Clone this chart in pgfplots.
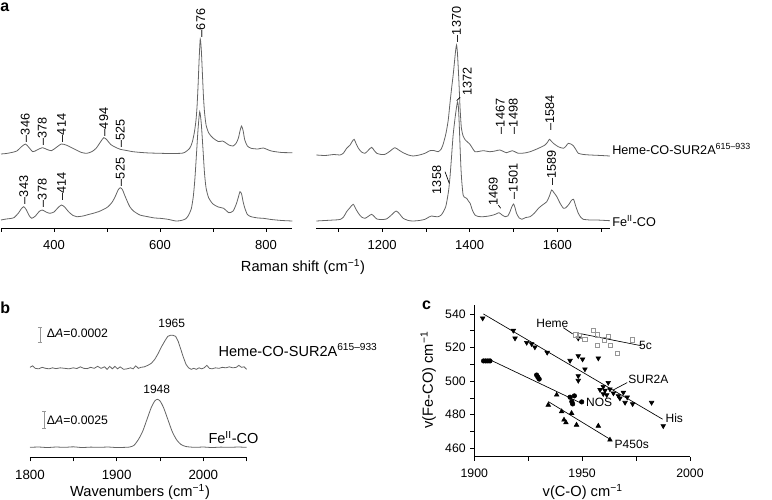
\documentclass[border=0pt]{standalone}
\usepackage{fontspec}
\setmainfont{Liberation Sans}
\usepackage{pgfplots}
\pgfplotsset{compat=1.18}

\definecolor{spec}{RGB}{100,100,100}
\definecolor{sq}{RGB}{150,150,150}

\pgfplotsset{
  panel/.style={scale only axis, anchor=south west, clip=false,
    axis line style={-, black, line width=0.5pt},
    tick align=outside, major tick length=3pt, minor tick length=3pt,
    tick style={black, line width=0.5pt},
    /pgf/number format/assume math mode=true,
    /pgf/number format/1000 sep={},
    tick label style={font=\fontsize{9.75}{11}\selectfont},
    xticklabel style={yshift=-3pt}},
  spectrum/.style={spec, line width=0.6pt, smooth, tension=0.4, mark=none},
}
\tikzset{pk/.style={rotate=90, anchor=west, inner sep=0.5pt, font=\fontsize{9.5}{11}\selectfont}}

\begin{document}
\fontsize{9.75}{11.5}\selectfont
\begin{tikzpicture}
\path[use as bounding box] (0,0) rectangle (579pt,375pt);

% ---------- panel a, low-frequency part
\begin{axis}[panel, at={(0.75pt,204pt)}, width=218.6pt, height=171pt,
  xmin=300, xmax=850, ymin=0, ymax=228,
  axis x line*=bottom, hide y axis,
  xtick={400,600,800}, minor xtick={300,500,700}]
\addplot[spectrum] coordinates {
(300,74) (310,74.5) (320,75.5) (330,77) (338,81) (346,84) (352,81) (360,76.3)
(368,78) (378,80.3) (387,78.5) (395,77.3) (403,80) (414,84) (425,82.5) (440,78.5)
(452,75.5) (462,74.7) (472,76.5) (480,80) (487,85.5) (494,90.3) (500,88) (507,83.5)
(515,81) (525,78.7) (537,77.5) (549,76.3) (565,75.5) (580,75) (600,74.7) (620,74.5)
(644,75) (656,79.7) (661,86) (665,96) (668,108) (670,122) (672,144) (674,170)
(676,189) (678,178) (680,155) (682,132) (684,116) (687,103) (692,95) (700,90)
(710,86.5) (718,87) (722,86) (730,83) (738,82) (744,85) (748,90) (751,97)
(754,102) (757,97) (760,88) (765,82) (772,79.7) (785,79) (795,80) (810,77)
(830,75.5) (850,75.3)};
\addplot[spectrum] coordinates {
(300,8) (310,9) (318,9.5) (325,10.5) (333,15) (338,19) (343,21.3) (348,18)
(353,12.5) (358,9.7) (365,12) (372,16.5) (378,18) (385,16) (392,14.7) (400,16)
(407,20) (414,23) (420,21) (428,16) (436,12.5) (443,11.3) (455,12) (465,13.5)
(474,14.7) (485,16.5) (495,19) (502,21.3) (510,26) (516,32) (521,38) (525,40.3)
(529,38.5) (534,32) (538,27) (543,21.3) (550,17) (562,13) (575,11.5) (590,10)
(600,9.7) (615,8.7) (630,7) (640,7.5) (648,9) (653,12) (659,19) (663,32)
(666,50) (669,75) (672,100) (675,116.3) (678,104) (681,80) (684,55) (687,40)
(692,30) (700,24) (710,21) (720,19.7) (730,15.3) (738,17) (744,24) (748,31)
(751,36.3) (754,34) (757,26) (760,20) (765,13.5) (772,11.3) (785,10) (795,9.7)
(810,8.5) (830,7.5) (850,7)};
\node[pk] at (axis cs:346,85) {–346};
\node[pk] at (axis cs:378,81.5) {–378};
\node[pk] at (axis cs:414,85) {–414};
\node[pk] at (axis cs:494,91) {–494};
\node[pk] at (axis cs:525,79.5) {–525};
\node[pk] at (axis cs:677,190) {–676};
\node[pk] at (axis cs:343,23) {–343};
\node[pk] at (axis cs:378,20) {–378};
\node[pk] at (axis cs:414,26.5) {–414};
\node[pk] at (axis cs:525,41) {–525};
\end{axis}

% ---------- panel a, high-frequency part
\begin{axis}[panel, at={(237.3pt,204pt)}, width=220.1pt, height=171pt,
  xmin=1050, xmax=1720, ymin=0, ymax=228,
  axis x line*=bottom, hide y axis,
  xtick={1200,1400,1600}, minor xtick={1100,1300,1500,1700}]
\addplot[spectrum] coordinates {
(1050,73) (1070,72.5) (1090,73.5) (1104,73) (1112,75) (1119,79.7) (1127,83) (1131,86)
(1136,88.7) (1141,84) (1146,79.7) (1153,76) (1161,74.7) (1168,77.5) (1176,80.7) (1182,77.5)
(1188,74.7) (1198,73.5) (1207,73.7) (1217,76.5) (1229,80.3) (1238,78) (1248,75.3) (1260,73)
(1271,72) (1285,73) (1298,74.7) (1309,77.3) (1318,77.5) (1328,76.3) (1335,79) (1340,84.7)
(1346,95) (1351,108) (1355,125) (1359,141) (1362,152) (1365,165) (1368,178) (1370,183)
(1372,175) (1375,150) (1378,120) (1381,100) (1385,92) (1390,88) (1395,86) (1400,84)
(1406,80) (1412,76.3) (1420,76.5) (1431,77.3) (1446,76.3) (1458,77) (1469,78) (1484,75.3)
(1497,77.3) (1511,74.7) (1525,75) (1538,76.3) (1557,79.7) (1572,83) (1578,86) (1582,88.7)
(1586,87) (1591,84.7) (1602,81.3) (1614,79.7) (1620,82) (1625,84.7) (1631,84) (1637,82)
(1643,78) (1648,74.7) (1660,73.5) (1675,73) (1700,72.5) (1720,72)};
\addplot[spectrum] coordinates {
(1050,7) (1070,7.5) (1090,8) (1104,8.5) (1112,11) (1119,16.3) (1126,20) (1134,23.7)
(1140,19) (1146,14.7) (1153,11) (1161,9.7) (1168,11.5) (1176,13.7) (1182,11.5) (1188,9)
(1198,8.5) (1210,9) (1220,12.5) (1232,17) (1240,14) (1248,9.7) (1260,7.5) (1271,7)
(1285,7.5) (1298,8.7) (1307,11) (1313,12) (1320,11.5) (1328,11.3) (1335,13) (1340,16.3)
(1345,21) (1348,27) (1352,38) (1355,51) (1358,68) (1362,92) (1366,108) (1369,118)
(1372,126) (1374,122) (1376,105) (1378,81) (1380,60) (1382,46) (1385,33) (1389,30.5)
(1393,29.7) (1397,27) (1401,24.7) (1406,18) (1412,13) (1420,11.5) (1431,11.3) (1444,12)
(1454,13) (1460,14) (1467,15.3) (1474,13) (1481,11.3) (1487,12) (1492,16.3) (1496,21)
(1500,24) (1503,21) (1507,14.7) (1513,10) (1519,8.7) (1528,10.5) (1538,11.3) (1548,15)
(1557,19.7) (1566,23) (1576,26.3) (1582,32) (1587,38) (1592,35.5) (1599,31.3) (1606,25)
(1614,19.7) (1620,20.5) (1627,24) (1632,27.5) (1637,28.7) (1642,22) (1648,14.7) (1654,10.5)
(1659,8.7) (1675,8) (1690,8) (1720,7.3)};
\node[pk] at (axis cs:1370,185) {–1370};
\draw[black, line width=0.5pt] (axis cs:1370.3,127.3) -- (axis cs:1378,130.7);
\node[pk] at (axis cs:1394.5,131.3) {1372};
\node[pk] at (axis cs:1470,93) {–1467};
\node[pk] at (axis cs:1499.5,93) {–1498};
\node[pk] at (axis cs:1583,96.3) {–1584};
\node[pk] at (axis cs:1325,33) {1358};
\draw[black, line width=0.5pt] (axis cs:1343.6,56.3) -- (axis cs:1353.4,44.7);
\node[pk] at (axis cs:1454,21.3) {1469};
\draw[black, line width=0.5pt] (axis cs:1465.3,23) -- (axis cs:1470.8,19.7);
\node[pk] at (axis cs:1499.5,28) {–1501};
\node[pk] at (axis cs:1587,41.3) {–1589};
\end{axis}

\node[anchor=base west, inner sep=0, font=\bfseries\fontsize{12}{12}\selectfont] at (0pt,366pt) {a};
\node[font=\fontsize{11}{13}\selectfont] at (227.25pt,174.75pt) {Raman shift (cm\textsuperscript{−1})};
\node[anchor=west, inner sep=0, font=\fontsize{9.5}{11}\selectfont] at (459pt,263.25pt) {Heme-CO-SUR2A\textsuperscript{615–933}};
\node[anchor=west, inner sep=0, font=\fontsize{9.5}{11}\selectfont] at (459pt,209.25pt) {Fe\textsuperscript{II}-CO};

% ---------- panel b
\begin{axis}[panel, at={(22.5pt,32pt)}, width=162.5pt, height=105pt,
  xmin=1800, xmax=2050, ymin=0, ymax=140,
  axis x line*=bottom, hide y axis,
  xtick={1800,1900,2000}, minor xtick={1850,1950,2050},
  tick label style={font=\fontsize{10}{12}\selectfont}]
\addplot[spec, line width=0.6pt, mark=none] coordinates {
(1800,90) (1803,91.5) (1806,89) (1810,88.5) (1814,90) (1818,89) (1822,88.5) (1826,89.5)
(1830,88.7) (1835,89.5) (1840,89) (1845,88.5) (1850,89.5) (1854,88.8) (1858,90.5) (1862,89)
(1866,88.7) (1870,90) (1874,89) (1878,91) (1882,89) (1886,90.5) (1889,88) (1892,91)
(1895,88.5) (1898,91) (1901,88.5) (1904,90.5) (1908,88) (1912,88.5) (1916,89.5) (1919,88.5)
(1922,91.5) (1925,89) (1928,90) (1932,90.5) (1936,92) (1940,94) (1944,98) (1948,104)
(1952,111) (1956,117) (1959,121) (1962,122) (1965,122) (1968,121) (1971,116) (1974,108)
(1977,100) (1980,93) (1983,89.5) (1986,88) (1989,89) (1992,88) (1995,89.5) (1998,88.5)
(2001,89.5) (2004,92) (2007,89) (2010,88.5) (2014,89.5) (2018,89) (2022,90) (2026,89.5)
(2030,90.5) (2034,89.5) (2038,90) (2041,92) (2044,90) (2047,90.5) (2050,88)};
\addplot[spec, line width=0.6pt, mark=none, smooth, tension=0.4] coordinates {
(1800,10) (1810,10.3) (1820,9.8) (1830,10.3) (1840,10) (1850,10.5) (1860,9.8) (1870,10.2)
(1880,10) (1890,10.3) (1900,9.8) (1910,10) (1915,10.3) (1920,12) (1925,17.7) (1930,26)
(1935,38) (1940,50) (1944,56.4) (1947,58) (1950,56.4) (1954,50) (1959,38) (1964,26)
(1969,17.7) (1974,13) (1980,10.8) (1990,10) (2000,10.3) (2010,9.8) (2020,10.2) (2030,10)
(2040,10.3) (2050,10)};
\draw[sq, line width=0.5pt] (axis cs:1811.5,114.6) -- (axis cs:1811.5,130)
  (axis cs:1809.2,114.6) -- (axis cs:1813.8,114.6) (axis cs:1809.2,130) -- (axis cs:1813.8,130);
\node[anchor=west, inner sep=0, font=\fontsize{9.2}{11}\selectfont] at (axis cs:1819.3,124) {Δ\textit{A}=0.0002};
\node[font=\fontsize{9}{11}\selectfont] at (axis cs:1963.5,134) {1965};
\node[anchor=west, inner sep=0, font=\fontsize{10.9}{13}\selectfont] at (axis cs:2017.3,107.3) {Heme-CO-SUR2A\textsuperscript{615–933}};
\node[font=\fontsize{9}{11}\selectfont] at (axis cs:1946.2,68) {1948};
\draw[sq, line width=0.5pt] (axis cs:1816.5,29) -- (axis cs:1816.5,45.6)
  (axis cs:1814.2,29) -- (axis cs:1818.8,29) (axis cs:1814.2,45.6) -- (axis cs:1818.8,45.6);
\node[anchor=west, inner sep=0, font=\fontsize{9.2}{11}\selectfont] at (axis cs:1819.3,37.3) {Δ\textit{A}=0.0025};
\node[anchor=west, inner sep=0, font=\fontsize{10.9}{13}\selectfont] at (axis cs:2005.7,20) {Fe\textsuperscript{II}-CO};
\end{axis}

\node[anchor=base west, inner sep=0, font=\bfseries\fontsize{12}{12}\selectfont] at (0pt,140pt) {b};
\node[font=\fontsize{11}{13}\selectfont] at (105pt,6.25pt) {Wavenumbers (cm\textsuperscript{−1})};

% ---------- panel c
\begin{axis}[panel, at={(355.7pt,32.5pt)}, width=161.8pt, height=113.8pt,
  xmin=1900, xmax=2000, ymin=455, ymax=545.35,
  axis x line*=bottom, axis y line*=left,
  xtick={1900,1950,2000}, minor xtick={1925,1975},
  ytick={460,480,500,520,540}, minor ytick={470,490,510,530},
  tick label style={font=\fontsize{9.2}{11}\selectfont}]
% His
\addplot[only marks, mark=triangle*, mark size=2pt, mark options={rotate=180, black}] coordinates {
(1903.9,537.4) (1918.1,530.1) (1918.9,525.5) (1924.3,522.9) (1926.6,522.1) (1928.1,520.2)
(1933.8,517) (1944.4,512.2) (1948.2,515) (1950.2,513) (1951.3,507.1) (1948.2,503.1)
(1948.2,500.3) (1957.5,513.6) (1948.2,525.5) (1962.1,499.1) (1959.8,496.7) (1958.3,494.8)
(1960.6,494.4) (1962.9,495.2) (1961.4,491.8) (1959.8,492.4) (1964.5,492.8) (1966.8,491.2)
(1969.1,493.2) (1970.9,490.4) (1969.9,487.2) (1973.4,486.4) (1982.2,487.2) (1987.6,473.3)
(1967.5,489.8)};
% NOS
\addplot[only marks, mark=*, mark size=1.7pt, mark options={black}] coordinates {
(1904.3,512) (1905.3,512) (1906.3,512) (1907.3,512) (1928.9,503.6) (1930.1,501.2)
(1929.5,502.3) (1944.4,490.4) (1946.4,491.2) (1945.2,487.8) (1945.6,486.4) (1949.8,487.6)};
% P450s
\addplot[only marks, mark=triangle*, mark size=2pt, mark options={black}] coordinates {
(1934.3,485.8) (1938.2,491.8) (1940.5,481.9) (1941.6,476.9) (1942.5,475.3) (1945.1,480.9)
(1947.4,473.9) (1957.5,473.3) (1962.9,465)};
% 5c
\addplot[only marks, mark=square, mark size=1.6pt, mark options={sq, line width=0.5pt}] coordinates {
(1947.1,527.5) (1948.6,527.0) (1951.3,524.9) (1955.2,530.1) (1957.2,527.5) (1957.2,521.5)
(1960.3,524.5) (1962.1,526.5) (1963.2,521.5) (1966.3,516.6) (1973.3,524.5)};
% fitted lines
\addplot[black, line width=0.5pt, mark=none] coordinates {(1904.2,540) (1987.3,477.3)};
\addplot[black, line width=0.5pt, mark=none] coordinates {(1908.1,512.2) (1949,487.2)};
\addplot[black, line width=0.5pt, mark=none] coordinates {(1934.3,487.8) (1962.9,465.4)};
\addplot[black, line width=0.5pt, mark=none] coordinates {(1948.2,528.5) (1977.6,521)};
\draw[black, line width=0.5pt] (axis cs:1941.3,531.8) -- (axis cs:1945.6,528.1);
\draw[black, line width=0.5pt] (axis cs:1964.4,494.7) -- (axis cs:1970.9,499.1);
\node[font=\fontsize{9}{11}\selectfont] at (axis cs:1936.2,534.5) {Heme};
\node[font=\fontsize{9}{11}\selectfont] at (axis cs:1979.4,521) {5c};
\node[font=\fontsize{9}{11}\selectfont] at (axis cs:1980.7,501.1) {SUR2A};
\node[font=\fontsize{9}{11}\selectfont] at (axis cs:1957.9,487.4) {NOS};
\node[font=\fontsize{9}{11}\selectfont] at (axis cs:1992.7,477.9) {His};
\node[font=\fontsize{9}{11}\selectfont] at (axis cs:1973,462.6) {P450s};
\end{axis}

\node[anchor=base west, inner sep=0, font=\bfseries\fontsize{12}{12}\selectfont] at (316.3pt,142.5pt) {c};
\node[rotate=90, font=\fontsize{11}{13}\selectfont] at (321.2pt,90pt) {v(Fe-CO) cm\textsuperscript{−1}};
\node[font=\fontsize{11}{13}\selectfont] at (437pt,6.25pt) {v(C-O) cm\textsuperscript{−1}};
\end{tikzpicture}
\end{document}
